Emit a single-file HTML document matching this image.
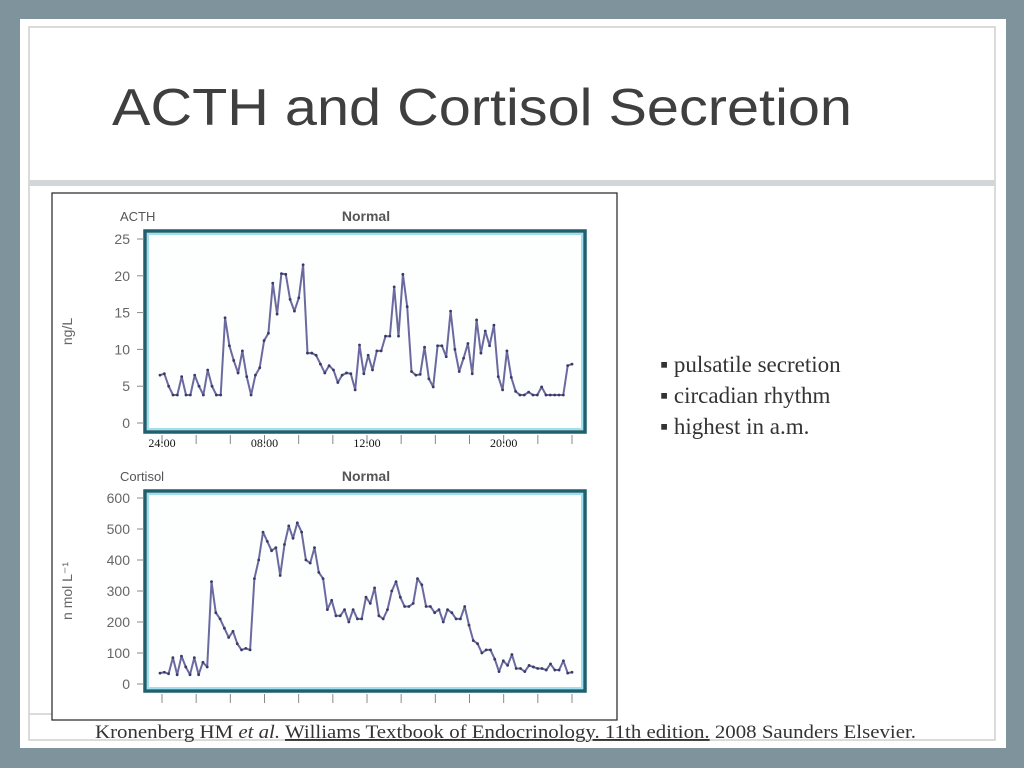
<!DOCTYPE html>
<html><head><meta charset="utf-8"><style>
html,body{margin:0;padding:0;width:1024px;height:768px;overflow:hidden;background:#7f939d;}
svg{display:block}
</style></head><body>
<svg width="1024" height="768" viewBox="0 0 1024 768" xmlns="http://www.w3.org/2000/svg">
<rect x="0" y="0" width="1024" height="768" fill="#7f939d"/>
<rect x="20" y="19" width="986" height="729" fill="#ffffff"/>
<rect x="29" y="27" width="966" height="713" fill="none" stroke="#cfcfcf" stroke-width="1.5"/>
<rect x="29" y="180" width="966" height="6" fill="#d3d6d9"/>
<line x1="29" y1="714" x2="52" y2="714" stroke="#cfcfcf" stroke-width="1.5"/>
<text x="112" y="125" font-family="Liberation Sans, sans-serif" font-size="52" fill="#3f3f3f" textLength="740" lengthAdjust="spacingAndGlyphs">ACTH and Cortisol Secretion</text>
<rect x="52" y="193" width="565" height="527" fill="#ffffff" stroke="#222" stroke-width="1.2"/>
<g id="acth"></g>
<g id="cort"></g>
<g font-family="Liberation Serif, serif" font-size="23" fill="#333">
<text x="660" y="372">▪ pulsatile secretion</text>
<text x="660" y="403">▪ circadian rhythm</text>
<text x="660" y="434">▪ highest in a.m.</text>
</g>
<text x="95" y="738" font-family="Liberation Serif, serif" font-size="19" fill="#333" textLength="821" lengthAdjust="spacingAndGlyphs">Kronenberg HM <tspan font-style="italic">et al.</tspan> <tspan text-decoration="underline">Williams Textbook of Endocrinology. 11th edition.</tspan> 2008 Saunders Elsevier.</text>
</svg>
<script>
const acthValues=[6.5,6.7,5,3.8,3.8,6.3,3.8,3.8,6.5,5,3.8,7.2,5,3.8,3.8,14.3,10.5,8.5,6.8,9.8,6.3,3.8,6.5,7.5,11.2,12.2,19,14.8,20.3,20.2,16.8,15.2,17,21.5,9.5,9.5,9.2,8,6.8,7.8,7.2,5.5,6.5,6.8,6.7,4.5,10.6,6.7,9.2,7.2,9.8,9.8,11.8,11.8,18.5,11.8,20.2,15.8,7,6.5,6.6,10.3,6,4.9,10.5,10.5,9,15.2,10,7,8.8,10.8,6.7,14,9.5,12.5,10.5,13.3,6.3,4.5,9.8,6.2,4.3,3.8,3.8,4.2,3.8,3.8,4.9,3.8,3.8,3.8,3.8,3.8,7.8,8];
const cortValues=[35,38,33,85,30,90,55,30,85,30,70,55,330,230,210,180,150,170,130,110,115,110,340,400,490,460,430,440,350,450,510,470,520,490,400,390,440,360,340,240,270,220,220,240,200,240,210,210,280,260,310,220,210,240,300,330,280,250,250,260,340,320,250,250,230,240,200,240,230,210,210,250,190,140,130,100,110,110,80,40,75,60,95,50,50,40,60,55,50,50,45,65,45,45,75,35,38];
const acthTicks=[0,5,10,15,20,25];
const cortTicks=[0,100,200,300,400,500,600];
const timeLabels=["24:00","08:00","12:00","20:00"];
const timeLabelTicks=[0,3,6,10];
const NS="http://www.w3.org/2000/svg";
function mk(parent,tag,attrs){const e=document.createElementNS(NS,tag);for(const k in attrs)e.setAttribute(k,attrs[k]);parent.appendChild(e);return e;}
function drawChart(g,cfg){
  const {vals,ticks,ymax,y0,y1,title,unit,showLabels}=cfg;
  const fx0=145,fx1=585,fy0=cfg.fy0,fy1=cfg.fy1;
  const xs=i=>160+i*(572-160)/(vals.length-1);
  const ys=v=>y0-(v/ymax)*(y0-y1);
  const ttl=mk(g,'text',{x:120,y:fy0-10,'font-family':'Liberation Sans, sans-serif','font-size':13,fill:'#555'});ttl.textContent=title;
  
  
  const nm=mk(g,'text',{x:366,y:fy0-10,'text-anchor':'middle','font-family':'Liberation Sans, sans-serif','font-size':14,'font-weight':'bold',fill:'#555'});nm.textContent='Normal';
  
  
  const fr=mk(g,'rect',{x:fx0,y:fy0,width:fx1-fx0,height:fy1-fy0,fill:'#fdfefe',stroke:'#1f5f6e','stroke-width':3.5});
  
  
  mk(g,'rect',{x:fx0+3,y:fy0+3,width:fx1-fx0-6,height:fy1-fy0-6,fill:'none',stroke:'#9fe0ef','stroke-width':2});
  ticks.forEach(t=>{const y=ys(t);
    mk(g,'line',{x1:137,y1:y,x2:144,y2:y,stroke:'#888','stroke-width':1});
    const tx=mk(g,'text',{x:130,y:y+5,'text-anchor':'end','font-family':'Liberation Sans, sans-serif','font-size':14,fill:'#666'});tx.textContent=t;
    
    
  });
  for(let k=0;k<13;k++){const x=162+k*(572-162)/12;mk(g,'line',{x1:x,y1:fy1+3,x2:x,y2:fy1+12,stroke:'#888','stroke-width':1});}
  if(showLabels){timeLabels.forEach((l,i)=>{const x=162+timeLabelTicks[i]*(572-162)/12;
    const tx=mk(g,'text',{x:x,y:fy1+15,'text-anchor':'middle','font-family':'Liberation Serif, serif','font-size':12,fill:'#111'});tx.textContent=l;
    
    });}
  const yt=mk(g,'text',{x:0,y:0,'text-anchor':'middle','font-family':'Liberation Sans, sans-serif','font-size':14,fill:'#666',transform:`translate(${cfg.ulx},${(fy0+fy1)/2}) rotate(-90)`});yt.textContent=unit;
  
  
  const pts=vals.map((v,i)=>xs(i).toFixed(1)+','+ys(v).toFixed(1)).join(' ');
  const pl=mk(g,'polyline',{points:pts,fill:'none',stroke:'#6a6aa0','stroke-width':2,'stroke-linejoin':'round'});
  
  
  vals.forEach((v,i)=>{const c=mk(g,'circle',{cx:xs(i),cy:ys(v),r:1.4,fill:'#3a3a66'});
    
    });
}
drawChart(document.getElementById('acth'),{vals:acthValues,ticks:acthTicks,ymax:25,y0:423,y1:239,fy0:231,fy1:432,title:'ACTH',unit:'ng/L',ulx:72,showLabels:true});
drawChart(document.getElementById('cort'),{vals:cortValues,ticks:cortTicks,ymax:600,y0:684,y1:498,fy0:491,fy1:691,title:'Cortisol',unit:'n mol L⁻¹',ulx:72,showLabels:false});
</script>
</body></html>
